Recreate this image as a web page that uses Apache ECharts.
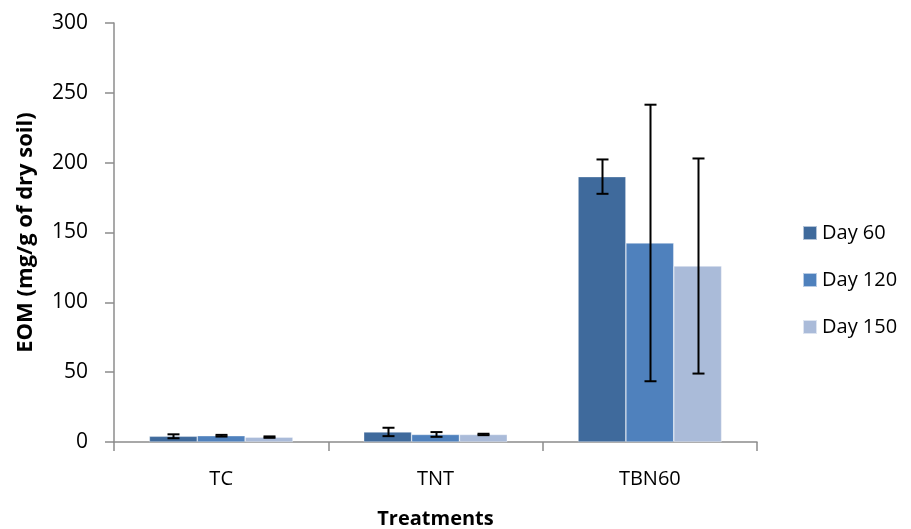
<!DOCTYPE html>
<html>
<head>
<meta charset="utf-8">
<script src="https://cdn.jsdelivr.net/npm/echarts@6/dist/echarts.min.js"></script>
<style>
  html, body { margin: 0; padding: 0; background: #fff; }
  #chart { width: 911px; height: 529px; }
</style>
</head>
<body>
<div id="chart"></div>
<script>
// Extractable organic matter per treatment and sampling day
const treatments = ['TC', 'TNT', 'TBN60'];
const seriesNames = ['Day 60', 'Day 120', 'Day 150'];
const day60 = [4.1, 7.2, 190];
const day120 = [4.5, 5.4, 142.5];
const day150 = [3.5, 5.4, 126];
const day60Err = [1.4, 3, 12.3];
const day120Err = [0.6, 1.7, 99];
const day150Err = [0.5, 0.5, 77];
const yTicks = [0, 50, 100, 150, 200, 250, 300];

const colors = ['#3F6A9C', '#4F81BD', '#AABBD9'];
const values = [day60, day120, day150];
const errors = [day60Err, day120Err, day150Err];
const CAT_GAP = 0.33;
const FONT = '"Open Sans", Lato, sans-serif';

const chart = echarts.init(document.getElementById('chart'));

const barSeries = seriesNames.map((name, i) => ({
  name: name,
  type: 'bar',
  data: values[i],
  barGap: '0%',
  barCategoryGap: (CAT_GAP * 100) + '%',
  itemStyle: { color: colors[i], borderColor: 'rgba(255,255,255,0.6)', borderWidth: 0.6 },
  z: 2
}));

// Whiskers drawn over each bar, positioned on the same category band
const errorSeries = seriesNames.map((name, i) => ({
  type: 'custom',
  name: name + ' error',
  z: 5,
  silent: true,
  data: values[i].map((v, k) => [k, v - errors[i][k], v + errors[i][k]]),
  renderItem: function (params, api) {
    const k = api.value(0);
    const lo = api.coord([k, api.value(1)]);
    const hi = api.coord([k, api.value(2)]);
    const band = api.size([1, 0])[0];
    const barW = band * (1 - CAT_GAP) / 3;
    const x = Math.round(lo[0] + (i - 1) * barW) + 0.5;
    const cap = 6;
    const st = { stroke: '#000', lineWidth: 2 };
    return {
      type: 'group',
      children: [
        { type: 'line', shape: { x1: x, y1: hi[1], x2: x, y2: lo[1] }, style: st },
        { type: 'line', shape: { x1: x - cap, y1: hi[1], x2: x + cap, y2: hi[1] }, style: st },
        { type: 'line', shape: { x1: x - cap, y1: lo[1], x2: x + cap, y2: lo[1] }, style: st }
      ]
    };
  }
}));

chart.setOption({
  animation: false,
  textStyle: { fontFamily: FONT },
  grid: { left: 114, right: 154, top: 23, bottom: 87, containLabel: false, outerBoundsMode: 'none' },
  legend: {
    data: seriesNames,
    orient: 'vertical',
    left: 797,
    top: 218,
    itemWidth: 14,
    itemHeight: 14,
    itemGap: 27,
    icon: 'rect',
    textStyle: { fontSize: 20, color: '#000', fontFamily: FONT }
  },
  xAxis: {
    type: 'category',
    data: treatments,
    name: 'Treatments',
    nameLocation: 'middle',
    nameGap: 67,
    nameTextStyle: { fontSize: 20, fontWeight: 'bold', color: '#000', fontFamily: FONT },
    axisLine: { lineStyle: { color: '#8c8c8c', width: 1.5 } },
    axisTick: { show: true, length: 9, alignWithLabel: false, lineStyle: { color: '#8c8c8c', width: 1.5 } },
    axisLabel: { fontSize: 20, color: '#000', margin: 27, fontFamily: FONT },
    splitLine: { show: false }
  },
  yAxis: {
    type: 'value',
    min: yTicks[0],
    max: yTicks[yTicks.length - 1],
    interval: 50,
    name: 'EOM (mg/g of dry soil)',
    nameLocation: 'middle',
    nameGap: 77,
    nameRotate: 90,
    nameTextStyle: { fontSize: 22, fontWeight: 'bold', color: '#000', fontFamily: FONT },
    axisLine: { show: true, lineStyle: { color: '#8c8c8c', width: 1.5 } },
    axisTick: { show: true, length: 9, lineStyle: { color: '#8c8c8c', width: 1.5 } },
    axisLabel: { fontSize: 21, color: '#000', margin: 26, fontFamily: FONT },
    splitLine: { show: false }
  },
  series: barSeries.concat(errorSeries)
});
</script>
</body>
</html>
